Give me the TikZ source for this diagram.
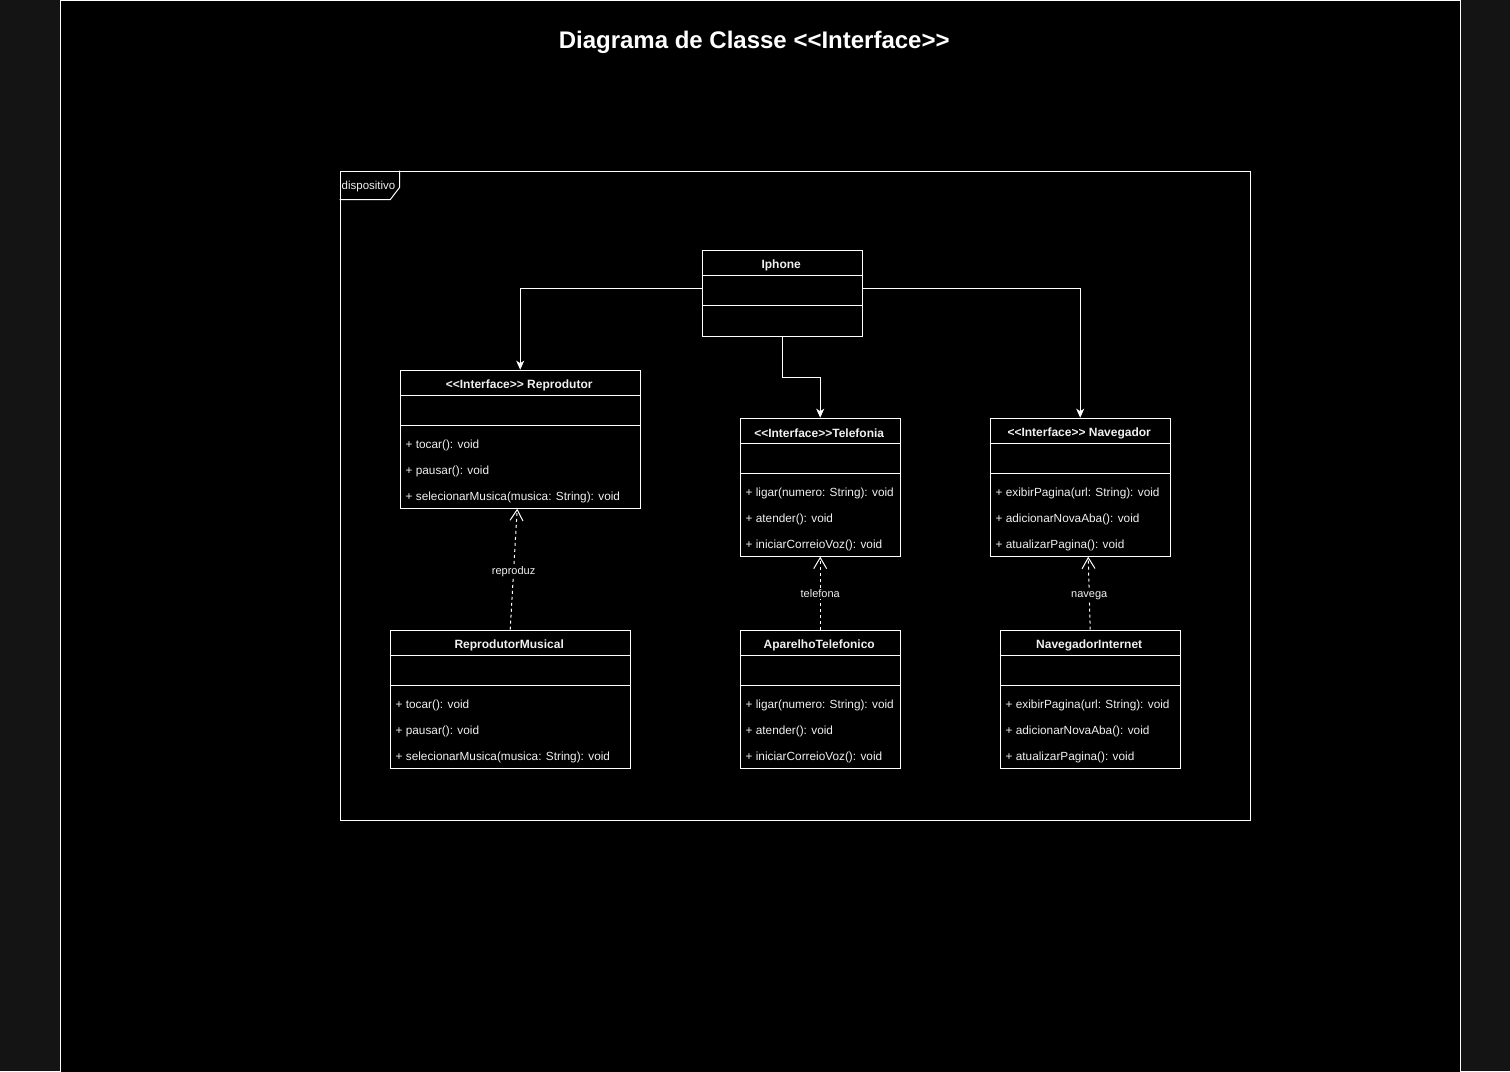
\documentclass[tikz,border=0pt]{standalone}
\usepackage{fontspec}
\setmainfont{Liberation Sans}
\usetikzlibrary{arrows.meta,calc}
\definecolor{bgout}{HTML}{141414}
\definecolor{txt}{HTML}{F0F0F0}
\begin{document}
\begin{tikzpicture}[x=1pt,y=-1pt,line width=1pt,
  clsbox/.style={draw=white,fill=black,inner sep=0pt,anchor=north west,minimum height=#1},
  clsbox/.default=138,
  clstitle/.style={text=txt,font=\fontsize{12}{14}\selectfont\bfseries,inner sep=0pt},
  meth/.style={text=txt,font=\fontsize{11.8}{14}\selectfont,inner sep=0pt,anchor=west},
  div/.style={draw=white,line width=1pt},
  assoc/.style={draw=white,-{Stealth[length=9pt,width=8pt,inset=2.5pt]}},
  real/.style={draw=white,dashed,dash pattern=on 3pt off 3pt,-{Straight Barb[length=11pt,width=13pt]}},
  lbl/.style={text=txt,font=\fontsize{11}{13}\selectfont,fill=black,inner sep=1.5pt}]
\useasboundingbox (0,0) rectangle (1510,1071);
\fill[bgout] (0,0) rectangle (1510,1071);
\begin{scope}[shift={(-0.8,-0.8)}]
\node[draw=white,fill=black,inner sep=0pt,anchor=north west,minimum width=1400pt,minimum height=1090pt] (canvas) at (60.5,1.2) {};
\node[text=white,font=\fontsize{24}{28}\selectfont\bfseries] (title) at (755,43) {Diagrama de Classe <{}<Interface>{}>};
% package
\node[draw=white,inner sep=0pt,anchor=north west,minimum width=910pt,minimum height=649pt] (pkg) at (340.5,171.5) {};
\draw[white] (340.5,200.5) -- (391,200.5) -- (400.5,188) -- (400.5,171.5);
\node[text=txt,font=\fontsize{11.5}{13}\selectfont,inner sep=0pt,anchor=west] (pkglbl) at (342,187) {dispositivo};
% Iphone
\node[clsbox=86,minimum width=160pt] (iph) at (702.5,250.5) {};
\draw[div] (702.5,276.5) -- (862.5,276.5);
\draw[div] (702.5,306.5) -- (862.5,306.5);
\node[clstitle] (iphT) at (782,265.8) {Iphone};
% Reprodutor
\node[clsbox,minimum width=240pt] (rep) at (400.5,370.5) {};
\draw[div] (400.5,396.5) -- (640.5,396.5);
\draw[div] (400.5,426.5) -- (640.5,426.5);
\node[clstitle] (repT) at (520,385.8) {<{}<Interface>{}> Reprodutor};
\node[meth] (rep1) at (406,446) {+ tocar(): void};
\node[meth] (rep2) at (406,472) {+ pausar(): void};
\node[meth] (rep3) at (406,498) {+ selecionarMusica(musica: String): void};
% Telefonia
\node[clsbox,minimum width=160pt] (tel) at (740.5,418.5) {};
\draw[div] (740.5,444.5) -- (900.5,444.5);
\draw[div] (740.5,474.5) -- (900.5,474.5);
\node[clstitle] (telT) at (820,433.8) {<{}<Interface>{}>Telefonia};
\node[meth] (tel1) at (746,494) {+ ligar(numero: String): void};
\node[meth] (tel2) at (746,520) {+ atender(): void};
\node[meth] (tel3) at (746,546) {+ iniciarCorreioVoz(): void};
% Navegador
\node[clsbox,minimum width=180pt] (nav) at (990.5,418.5) {};
\draw[div] (990.5,444.5) -- (1170.5,444.5);
\draw[div] (990.5,474.5) -- (1170.5,474.5);
\node[clstitle] (navT) at (1080,433.8) {<{}<Interface>{}> Navegador};
\node[meth] (nav1) at (996,494) {+ exibirPagina(url: String): void};
\node[meth] (nav2) at (996,520) {+ adicionarNovaAba(): void};
\node[meth] (nav3) at (996,546) {+ atualizarPagina(): void};
% ReprodutorMusical
\node[clsbox,minimum width=240pt] (rm) at (390.5,630.5) {};
\draw[div] (390.5,656.5) -- (630.5,656.5);
\draw[div] (390.5,686.5) -- (630.5,686.5);
\node[clstitle] (rmT) at (510,645.8) {ReprodutorMusical};
\node[meth] (rm1) at (396,706) {+ tocar(): void};
\node[meth] (rm2) at (396,732) {+ pausar(): void};
\node[meth] (rm3) at (396,758) {+ selecionarMusica(musica: String): void};
% AparelhoTelefonico
\node[clsbox,minimum width=160pt] (at) at (740.5,630.5) {};
\draw[div] (740.5,656.5) -- (900.5,656.5);
\draw[div] (740.5,686.5) -- (900.5,686.5);
\node[clstitle] (atT) at (820,645.8) {AparelhoTelefonico};
\node[meth] (at1) at (746,706) {+ ligar(numero: String): void};
\node[meth] (at2) at (746,732) {+ atender(): void};
\node[meth] (at3) at (746,758) {+ iniciarCorreioVoz(): void};
% NavegadorInternet
\node[clsbox,minimum width=180pt] (ni) at (1000.5,630.5) {};
\draw[div] (1000.5,656.5) -- (1180.5,656.5);
\draw[div] (1000.5,686.5) -- (1180.5,686.5);
\node[clstitle] (niT) at (1090,645.8) {NavegadorInternet};
\node[meth] (ni1) at (1006,706) {+ exibirPagina(url: String): void};
\node[meth] (ni2) at (1006,732) {+ adicionarNovaAba(): void};
\node[meth] (ni3) at (1006,758) {+ atualizarPagina(): void};
% associations
\draw[assoc] ($(iph.north west)+(0,39)$) -| (rep.north);
\draw[assoc] ($(iph.north east)+(0,39)$) -| (nav.north);
\draw[assoc] (iph.south) -- ++(0,41) -| (tel.north);
% realizations
\draw[real] (rm.north) -- node[lbl,pos=0.48] (l1) {reproduz} ($(rep.south)+(-3,0)$);
\draw[real] (at.north) -- node[lbl,pos=0.49] (l2) {telefona} (tel.south);
\draw[real] (ni.north) -- node[lbl,pos=0.47] (l3) {navega} ($(nav.south)+(8,0)$);
\end{scope}
\end{tikzpicture}
\end{document}
